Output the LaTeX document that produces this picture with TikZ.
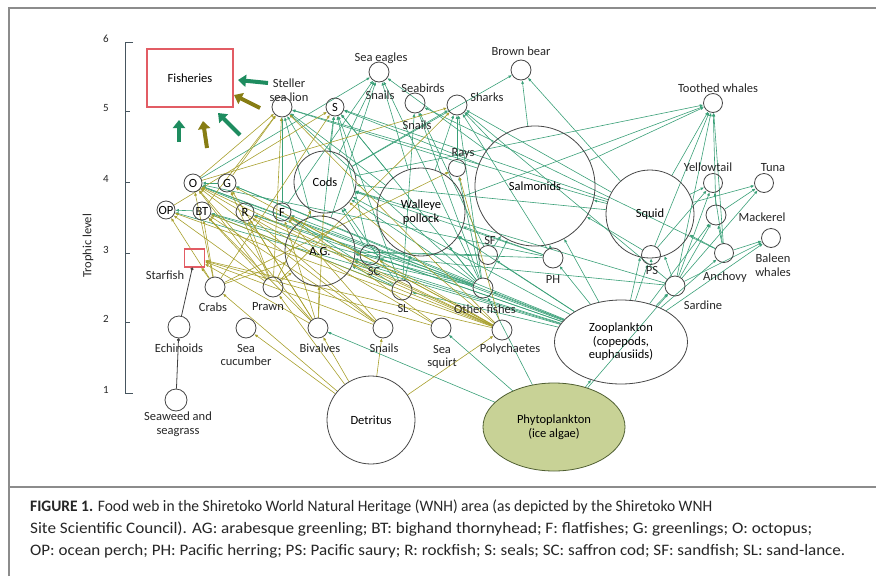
\documentclass[tikz,border=0pt]{standalone}
\usepackage{fontspec}
\setmainfont{Carlito}
\usetikzlibrary{arrows.meta,shapes.geometric,backgrounds}

\definecolor{webgreen}{RGB}{58,160,120}
\definecolor{webolive}{RGB}{168,160,45}
\definecolor{nodegray}{RGB}{70,70,70}
\definecolor{fishred}{RGB}{226,92,100}
\definecolor{phytofill}{RGB}{200,210,150}
\definecolor{phytoline}{RGB}{80,95,50}
\definecolor{axisgray}{RGB}{70,85,95}
\definecolor{bigarrowgreen}{RGB}{30,140,95}
\definecolor{bigarrowolive}{RGB}{135,125,20}
\definecolor{framegray}{RGB}{140,140,140}

\newcommand\lblfont{\fontsize{12.5}{13.5}\selectfont}
\newcommand\capfont{\fontsize{16}{22}\selectfont}
% caption line stretched to a given width, height kept
\newcommand\capline[2]{\resizebox{#1}{\height}{#2}}

\tikzset{
  sp/.style={circle, draw=nodegray, line width=0.8pt, inner sep=0pt,
             align=center, font=\lblfont},
  lbl/.style={font=\lblfont, inner sep=0pt, align=center, text=black!85},
  gw/.style={draw=webgreen, line width=0.6pt, -{Latex[length=3.5pt,width=3pt]}},
  ow/.style={draw=webolive, line width=0.6pt, -{Latex[length=3.5pt,width=3pt]}},
  bw/.style={draw=black!75, line width=0.8pt, -{Circle[length=3pt]}},
  bigg/.style={draw=bigarrowgreen, line width=4pt, -{Triangle[length=8pt,width=12pt]}},
  bigo/.style={draw=bigarrowolive, line width=4pt, -{Triangle[length=8pt,width=12pt]}},
  captext/.style={font=\capfont, inner sep=0pt, text=black!85}
}

\begin{document}
\begin{tikzpicture}[x=1pt,y=-1pt]
\useasboundingbox (0,0) rectangle (876,576);

% frame and caption separator
\draw[framegray, line width=1.5pt] (9,576) -- (9,8) -- (876,8);
\draw[framegray, line width=2pt] (9,487) -- (876,487);

% trophic level axis
\draw[axisgray, line width=1pt] (133,42) -- (125,42) -- (125,393) -- (133,393);
\foreach \lev/\yy in {5/111,4/182,3/253,2/322}
  \draw[axisgray, line width=1pt] (125,\yy) -- (130,\yy);
\foreach \lev/\yy in {6/42,5/111,4/182,3/253,2/322,1/393}
  \node[lbl, font=\fontsize{11}{12}\selectfont] (tick\lev) at (106,\yy-3) {\lev};
\node[lbl, rotate=90] (axlabel) at (88,246) {Trophic level};

% Fisheries and catch arrows
\node[draw=fishred, line width=1.1pt, minimum width=86pt, minimum height=58pt,
      font=\lblfont] (fish) at (190,78) {Fisheries};
\coordinate (a1s) at (268,83);  \coordinate (a1e) at (238,80);
\coordinate (a2s) at (260,108); \coordinate (a2e) at (234,95);
\coordinate (a3s) at (240,135); \coordinate (a3e) at (218,113);
\coordinate (a4s) at (207,148); \coordinate (a4e) at (203,121);
\coordinate (a5s) at (179,142); \coordinate (a5e) at (179,120);
\draw[bigg] (a1s) -- (a1e);
\draw[bigo] (a2s) -- (a2e);
\draw[bigg] (a3s) -- (a3e);
\draw[bigo] (a4s) -- (a4e);
\draw[bigg] (a5s) -- (a5e);

% species nodes
\node[sp, minimum size=20pt] (ssl)    at (282,107) {};
\node[sp, minimum size=18pt] (seals)  at (335,107) {S};
\node[sp, minimum size=20pt] (eagle)  at (379,72) {};
\node[sp, minimum size=20pt] (birds)  at (415,103) {};
\node[sp, minimum size=20pt] (sharks) at (457,105) {};
\node[sp, minimum size=20pt] (bear)   at (521,70) {};
\node[sp, minimum size=17pt] (rays)   at (457,168) {};
\node[sp, minimum size=120pt] (salm)  at (535,186) {Salmonids};
\node[sp, minimum size=88pt] (pollock) at (421,212) {Walleye\\pollock};
\node[sp, minimum size=62pt] (cods)   at (325,182) {Cods};
\node[sp, minimum size=70pt] (ag)     at (320,251) {A.G.};
\node[sp, minimum size=88pt] (squid)  at (650,214) {Squid};
\node[sp, minimum size=19pt] (tooth)  at (713,103) {};
\node[sp, minimum size=19pt] (yell)   at (713,183) {};
\node[sp, minimum size=19pt] (tuna)   at (764,183) {};
\node[sp, minimum size=20pt] (mack)   at (716,215) {};
\node[sp, minimum size=19pt] (baleen) at (771,238) {};
\node[sp, minimum size=19pt] (anch)   at (724,253) {};
\node[sp, minimum size=19pt] (ps)     at (651,255) {};
\node[sp, minimum size=20pt] (sard)   at (675,286) {};
\node[sp, minimum size=20pt] (ph)     at (553,258) {};
\node[sp, minimum size=19pt] (sf)     at (488,255) {};
\node[sp, minimum size=20pt] (other)  at (483,288) {};
\node[sp, minimum size=20pt] (sc)     at (370,255) {};
\node[sp, minimum size=20pt] (sl)     at (402,290) {};
\node[sp, minimum size=20pt] (poly)   at (502,330) {};
\node[sp, minimum size=20pt] (squirt) at (441,328) {};
\node[sp, minimum size=20pt] (snails) at (383,328) {};
\node[sp, minimum size=20pt] (biv)    at (318,328) {};
\node[sp, minimum size=88pt] (detr)   at (371,420) {Detritus};
\node[ellipse, draw=phytoline, line width=0.8pt, fill=phytofill, inner sep=0pt,
      minimum width=142pt, minimum height=88pt, align=center, font=\lblfont]
      (phyto) at (554,427) {Phytoplankton\\(ice algae)};
\node[ellipse, draw=nodegray, line width=0.8pt, inner sep=0pt,
      minimum width=133pt, minimum height=84pt, align=center, font=\lblfont]
      (zoo) at (621,342) {Zooplankton\\(copepods,\\euphausiids)};
\node[draw=fishred, line width=1.1pt, minimum width=20pt, minimum height=18pt,
      inner sep=0pt] (star) at (194.5,258) {};
\node[sp, minimum size=20pt] (crabs)  at (215,287) {};
\node[sp, minimum size=20pt] (prawn)  at (273,287) {};
\node[sp, minimum size=22pt] (echi)   at (179,327) {};
\node[sp, minimum size=20pt] (cuc)    at (246,328) {};
\node[sp, minimum size=22pt] (weed)   at (176,400) {};
\node[sp, minimum size=18pt] (o)      at (193,183) {O};
\node[sp, minimum size=18pt] (g)      at (227,183) {G};
\node[sp, minimum size=18pt] (op)     at (166,210) {OP};
\node[sp, minimum size=18pt] (bt)     at (202,211) {BT};
\node[sp, minimum size=18pt] (r)      at (245,212) {R};
\node[sp, minimum size=18pt] (f)      at (282,212) {F};

% species labels
\node[lbl] (t-ssl)    at (289,90)  {Steller\\sea lion};
\node[lbl] (t-eagle)  at (381,58)  {Sea eagles};
\node[lbl] (t-sn1)    at (380,95)  {Snails};
\node[lbl] (t-birds)  at (423,88)  {Seabirds};
\node[lbl] (t-sn2)    at (417,125) {Snails};
\node[lbl] (t-sharks) at (487,97)  {Sharks};
\node[lbl] (t-bear)   at (521,51)  {Brown bear};
\node[lbl] (t-rays)   at (463,153) {Rays};
\node[lbl] (t-tooth)  at (718,88)  {Toothed whales};
\node[lbl] (t-yell)   at (708,167) {Yellowtail};
\node[lbl] (t-tuna)   at (773,168) {Tuna};
\node[lbl] (t-mack)   at (762,217) {Mackerel};
\node[lbl] (t-baleen) at (773,265) {Baleen\\whales};
\node[lbl] (t-anch)   at (725,277) {Anchovy};
\node[lbl] (t-ps)     at (652,270) {PS};
\node[lbl] (t-sard)   at (703,305) {Sardine};
\node[lbl] (t-ph)     at (553,279) {PH};
\node[lbl] (t-sf)     at (490,240) {SF};
\node[lbl] (t-other)  at (485,309) {Other fishes};
\node[lbl] (t-sc)     at (374,271) {SC};
\node[lbl] (t-sl)     at (403,308) {SL};
\node[lbl] (t-poly)   at (510,349) {Polychaetes};
\node[lbl] (t-squirt) at (442,357) {Sea\\squirt};
\node[lbl] (t-snails) at (384,348) {Snails};
\node[lbl] (t-biv)    at (320,348) {Bivalves};
\node[lbl] (t-star)   at (165,275) {Starfish};
\node[lbl] (t-crabs)  at (213,307) {Crabs};
\node[lbl] (t-prawn)  at (268,307) {Prawn};
\node[lbl] (t-echi)   at (179,348) {Echinoids};
\node[lbl] (t-cuc)    at (246,355) {Sea\\cucumber};
\node[lbl] (t-weed)   at (178,424) {Seaweed and\\seagrass};

% feeding links, drawn under the nodes
\begin{pgfonlayer}{background}
% pelagic links
\foreach \a/\b in {
  salm/eagle, cods/eagle, pollock/eagle, ag/eagle, f/eagle, o/eagle, other/eagle,
  pollock/ssl, cods/ssl, salm/ssl, ag/ssl, squid/ssl, f/ssl, other/ssl,
  pollock/seals, cods/seals, salm/seals, squid/seals, ag/seals, sc/seals, other/seals, sl/seals,
  sl/birds, sf/birds, other/birds, anch/birds,
  salm/sharks, squid/sharks, pollock/sharks, rays/sharks, cods/sharks, ph/sharks, sard/sharks, other/sharks,
  salm/bear, cods/bear, squid/bear,
  other/rays,
  salm/tooth, squid/tooth, pollock/tooth, mack/tooth, sard/tooth, anch/tooth, ps/tooth, cods/tooth,
  sard/yell, anch/yell, squid/yell, ps/yell,
  squid/tuna, sard/tuna, mack/tuna,
  zoo/mack, anch/mack, sard/mack,
  zoo/baleen, anch/baleen, sard/baleen,
  zoo/squid, sard/squid, anch/squid, ps/squid,
  zoo/salm, squid/salm, ps/salm, ph/salm, sf/salm, other/salm,
  zoo/pollock, sl/pollock, other/pollock, sf/pollock, ph/pollock,
  zoo/cods, pollock/cods, sc/cods, sl/cods, other/cods, sard/cods, ph/cods, squid/cods,
  zoo/ag, other/ag, sl/ag, ph/ag, sard/ag, sf/ag,
  zoo/ph, zoo/ps, zoo/sard, zoo/anch, zoo/sf, zoo/sl, zoo/other, zoo/sc,
  zoo/o, zoo/g, zoo/op, zoo/bt, zoo/r, zoo/f,
  other/o, other/bt, other/g, other/r, sl/f, sl/bt, sc/o, ph/o,
  g/o, bt/op,
  phyto/zoo, phyto/biv, phyto/squirt, phyto/sard, phyto/other}
  \draw[gw] (\a) -- (\b);
% benthic links
\foreach \a/\b in {
  detr/biv, detr/snails, detr/poly, detr/cuc, detr/crabs, detr/prawn,
  biv/o, biv/bt, biv/f, biv/ag, biv/star, biv/cods, biv/g, biv/r,
  snails/o, snails/star, snails/r, snails/bt, snails/f,
  poly/o, poly/g, poly/f, poly/ag, poly/cods, poly/rays, poly/bt, poly/sc,
  poly/op, poly/r, poly/star, poly/ssl,
  prawn/o, prawn/g, prawn/bt, prawn/op, prawn/r, prawn/ag, prawn/cods, prawn/ssl, prawn/sharks,
  crabs/o, crabs/bt, crabs/op, crabs/ag, crabs/seals, crabs/rays, crabs/star,
  squirt/o, squirt/f, squirt/star,
  o/ssl, g/ssl, bt/ssl, op/seals, o/sharks}
  \draw[ow] (\a) -- (\b);
\end{pgfonlayer}

% grazing chain on the left
\draw[bw] (weed) -- (echi);
\draw[bw] (echi) -- (star);

% caption
\node[captext, anchor=base west] (cap1) at (30,511)
  {\capline{682pt}{\textbf{FIGURE 1.} Food web in the Shiretoko World Natural Heritage (WNH) area (as depicted by the Shiretoko WNH}};
\node[captext, anchor=base west] (cap2) at (30,533)
  {\capline{782pt}{Site Scientific Council). AG: arabesque greenling; BT: bighand thornyhead; F: flatfishes; G: greenlings; O: octopus;}};
\node[captext, anchor=base west] (cap3) at (30,555)
  {\capline{815pt}{OP: ocean perch; PH: Pacific herring; PS: Pacific saury; R: rockfish; S: seals; SC: saffron cod; SF: sandfish; SL: sand-lance.}};
\end{tikzpicture}
\end{document}
